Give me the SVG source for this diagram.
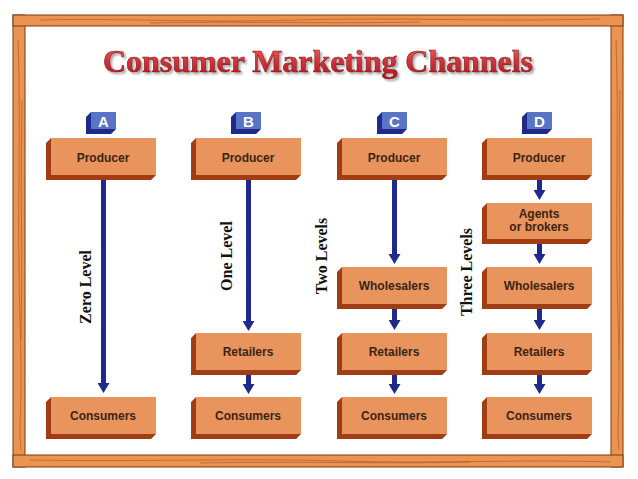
<svg xmlns="http://www.w3.org/2000/svg" width="638" height="479" viewBox="0 0 638 479">
<defs>
<style>
.wood{fill:#eb9350;stroke:#7a3a12;stroke-width:1}
.grain{fill:none;stroke:#b8612c;stroke-width:0.8}
.face{fill:#e9945d}
.side{fill:#a23c14}
.lbl{font-family:"Liberation Sans",Arial,sans-serif;font-weight:bold;font-size:12px;fill:#3a2414;text-anchor:middle}
.bface{fill:#5874c6}
.bside{fill:#1d2a8a}
.blt{font-family:"Liberation Sans",Arial,sans-serif;font-weight:bold;font-size:15px;fill:#ffffff;text-anchor:middle}
.lev{font-family:"Liberation Serif","Times New Roman",serif;font-weight:bold;font-size:16px;fill:#111;text-anchor:middle}
.arr{stroke:#1f2a8c;stroke-width:5;fill:none;marker-end:url(#ah)}
</style>
<marker id="ah" markerUnits="userSpaceOnUse" markerWidth="10" markerHeight="12" viewBox="0 0 10 12" refX="2" refY="6" orient="auto">
<path d="M0,0 L10,6 L0,12 z" fill="#1f2a8c"/>
</marker>
<linearGradient id="tg" x1="0" y1="0" x2="0" y2="1">
<stop offset="0" stop-color="#ee6b6b"/>
<stop offset="0.5" stop-color="#d2343a"/>
<stop offset="1" stop-color="#a8161c"/>
</linearGradient>
<filter id="ts" x="-5%" y="-20%" width="110%" height="150%">
<feDropShadow dx="2" dy="2" stdDeviation="1" flood-color="#808080" flood-opacity="0.7"/>
</filter>
</defs>
<rect width="638" height="479" fill="#ffffff"/>

<g id="frame">
<rect class="wood" x="13" y="15" width="12" height="452"/>
<rect class="wood" x="611" y="15" width="12" height="452"/>
<rect class="wood" x="13" y="15" width="610" height="11"/>
<rect class="wood" x="13" y="455" width="610" height="12"/>
<path class="grain" d="M40,20 C120,18 200,23 300,20 S480,22 600,19 M150,23 C230,21 330,24 420,22"/>
<path class="grain" d="M30,460 C140,462 240,458 340,461 S520,459 610,462 M200,463 C300,461 380,464 470,462"/>
<path class="grain" d="M18,40 C21,120 17,220 20,320 S18,420 21,450 M22,100 C20,180 23,260 21,340"/>
<path class="grain" d="M616,40 C619,120 615,220 618,320 S616,420 619,450 M620,90 C618,170 621,260 619,360"/>
</g>

<g id="title">
<text x="318" y="72" font-family="'Liberation Serif','Times New Roman',serif" font-weight="bold" font-size="32" text-anchor="middle" fill="url(#tg)" stroke="#8a1014" stroke-width="0.6" textLength="430" filter="url(#ts)">Consumer Marketing Channels</text>
</g>

<g id="badges">
<g id="badge-A"><path class="bside" d="M91,112 L86,117 L86,134 L111,134 L116,129 L91,129 Z"/><rect class="bface" x="91" y="112" width="25" height="17"/><text class="blt" x="103.5" y="126.5">A</text></g>
<g id="badge-B"><path class="bside" d="M236,112 L231,117 L231,134 L256,134 L261,129 L236,129 Z"/><rect class="bface" x="236" y="112" width="25" height="17"/><text class="blt" x="248.5" y="126.5">B</text></g>
<g id="badge-C"><path class="bside" d="M382,112 L377,117 L377,134 L402,134 L407,129 L382,129 Z"/><rect class="bface" x="382" y="112" width="25" height="17"/><text class="blt" x="394.5" y="126.5">C</text></g>
<g id="badge-D"><path class="bside" d="M527,112 L522,117 L522,134 L547,134 L552,129 L527,129 Z"/><rect class="bface" x="527" y="112" width="25" height="17"/><text class="blt" x="539.5" y="126.5">D</text></g>
</g>

<g id="connectors">
<line class="arr" x1="103.5" y1="180" x2="103.5" y2="385"/>
<line class="arr" x1="248.5" y1="180" x2="248.5" y2="323"/>
<line class="arr" x1="248.5" y1="375" x2="248.5" y2="386"/>
<line class="arr" x1="394.5" y1="180" x2="394.5" y2="256"/>
<line class="arr" x1="394.5" y1="309" x2="394.5" y2="322"/>
<line class="arr" x1="394.5" y1="375" x2="394.5" y2="386"/>
<line class="arr" x1="539.5" y1="180" x2="539.5" y2="192"/>
<line class="arr" x1="539.5" y1="244" x2="539.5" y2="256"/>
<line class="arr" x1="539.5" y1="309" x2="539.5" y2="322"/>
<line class="arr" x1="539.5" y1="375" x2="539.5" y2="386"/>
</g>

<g id="A-producer"><path class="side" d="M51,138 L46,143 L46,180 L151,180 L156,175 L51,175 Z"/><rect class="face" x="51" y="138" width="105" height="37"/><text class="lbl" x="103" y="162">Producer</text></g>
<g id="A-consumers"><path class="side" d="M51,397 L46,402 L46,439 L151,439 L156,434 L51,434 Z"/><rect class="face" x="51" y="397" width="105" height="37"/><text class="lbl" x="103" y="420">Consumers</text></g>

<g id="B-producer"><path class="side" d="M196,138 L191,143 L191,180 L296,180 L301,175 L196,175 Z"/><rect class="face" x="196" y="138" width="105" height="37"/><text class="lbl" x="248" y="162">Producer</text></g>
<g id="B-retailers"><path class="side" d="M196,333 L191,338 L191,375 L296,375 L301,370 L196,370 Z"/><rect class="face" x="196" y="333" width="105" height="37"/><text class="lbl" x="248" y="356">Retailers</text></g>
<g id="B-consumers"><path class="side" d="M196,397 L191,402 L191,439 L296,439 L301,434 L196,434 Z"/><rect class="face" x="196" y="397" width="105" height="37"/><text class="lbl" x="248" y="420">Consumers</text></g>

<g id="C-producer"><path class="side" d="M342,138 L337,143 L337,180 L442,180 L447,175 L342,175 Z"/><rect class="face" x="342" y="138" width="105" height="37"/><text class="lbl" x="394" y="162">Producer</text></g>
<g id="C-wholesalers"><path class="side" d="M342,267 L337,272 L337,309 L442,309 L447,304 L342,304 Z"/><rect class="face" x="342" y="267" width="105" height="37"/><text class="lbl" x="394" y="290">Wholesalers</text></g>
<g id="C-retailers"><path class="side" d="M342,333 L337,338 L337,375 L442,375 L447,370 L342,370 Z"/><rect class="face" x="342" y="333" width="105" height="37"/><text class="lbl" x="394" y="356">Retailers</text></g>
<g id="C-consumers"><path class="side" d="M342,397 L337,402 L337,439 L442,439 L447,434 L342,434 Z"/><rect class="face" x="342" y="397" width="105" height="37"/><text class="lbl" x="394" y="420">Consumers</text></g>

<g id="D-producer"><path class="side" d="M487,138 L482,143 L482,180 L587,180 L592,175 L487,175 Z"/><rect class="face" x="487" y="138" width="105" height="37"/><text class="lbl" x="539" y="162">Producer</text></g>
<g id="D-agents"><path class="side" d="M487,203 L482,208 L482,244 L587,244 L592,239 L487,239 Z"/><rect class="face" x="487" y="203" width="105" height="36"/><text class="lbl" x="539" y="218">Agents</text><text class="lbl" x="539" y="231">or brokers</text></g>
<g id="D-wholesalers"><path class="side" d="M487,267 L482,272 L482,309 L587,309 L592,304 L487,304 Z"/><rect class="face" x="487" y="267" width="105" height="37"/><text class="lbl" x="539" y="290">Wholesalers</text></g>
<g id="D-retailers"><path class="side" d="M487,333 L482,338 L482,375 L587,375 L592,370 L487,370 Z"/><rect class="face" x="487" y="333" width="105" height="37"/><text class="lbl" x="539" y="356">Retailers</text></g>
<g id="D-consumers"><path class="side" d="M487,397 L482,402 L482,439 L587,439 L592,434 L487,434 Z"/><rect class="face" x="487" y="397" width="105" height="37"/><text class="lbl" x="539" y="420">Consumers</text></g>

<g id="levels">
<text class="lev" transform="translate(91,287) rotate(-90)">Zero Level</text>
<text class="lev" transform="translate(232,256) rotate(-90)">One Level</text>
<text class="lev" transform="translate(327,256) rotate(-90)">Two  Levels</text>
<text class="lev" transform="translate(472,272) rotate(-90)">Three  Levels</text>
</g>
</svg>
